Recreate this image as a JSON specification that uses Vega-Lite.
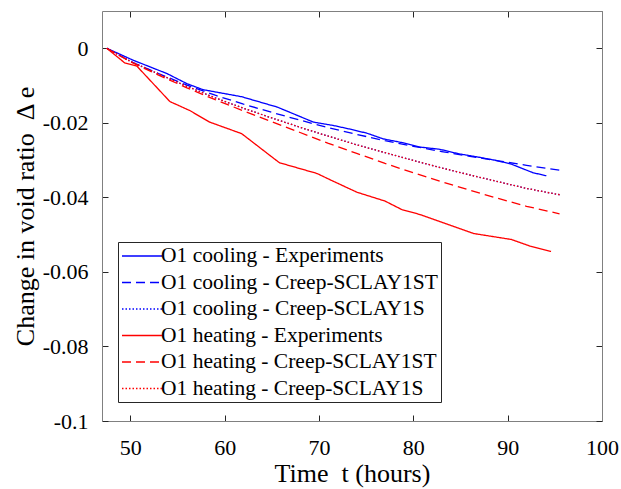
{
  "$schema": "https://vega.github.io/schema/vega-lite/v6.json",
  "width": 500,
  "height": 410,
  "autosize": {"type": "none"},
  "padding": {"left": 102, "top": 11, "right": 19, "bottom": 68},
  "background": "white",
  "config": {
    "font": "Liberation Serif",
    "view": {"stroke": null},
    "axis": {
      "grid": false,
      "domainColor": "#808080",
      "tickColor": "#262626",
      "labelColor": "#000000",
      "titleColor": "#000000",
      "labelFont": "Liberation Serif",
      "titleFont": "Liberation Serif",
      "labelFontSize": 22,
      "titleFontSize": 26,
      "titleFontWeight": "normal",
      "tickSize": -6,
      "labelFlush": false,
      "labelOverlap": false
    }
  },
  "datasets": {
    "d": [
      {"series": "O1 cooling - Experiments", "t": 47.5, "v": 0},
      {"series": "O1 cooling - Experiments", "t": 50.3, "v": -0.0032},
      {"series": "O1 cooling - Experiments", "t": 53.9, "v": -0.0068},
      {"series": "O1 cooling - Experiments", "t": 56.0, "v": -0.0095},
      {"series": "O1 cooling - Experiments", "t": 57.7, "v": -0.0111},
      {"series": "O1 cooling - Experiments", "t": 61.8, "v": -0.0130},
      {"series": "O1 cooling - Experiments", "t": 65.6, "v": -0.0158},
      {"series": "O1 cooling - Experiments", "t": 69.4, "v": -0.0198},
      {"series": "O1 cooling - Experiments", "t": 71.5, "v": -0.0207},
      {"series": "O1 cooling - Experiments", "t": 73.3, "v": -0.0217},
      {"series": "O1 cooling - Experiments", "t": 75.1, "v": -0.0228},
      {"series": "O1 cooling - Experiments", "t": 76.8, "v": -0.0243},
      {"series": "O1 cooling - Experiments", "t": 78.8, "v": -0.0253},
      {"series": "O1 cooling - Experiments", "t": 80.7, "v": -0.0265},
      {"series": "O1 cooling - Experiments", "t": 82.8, "v": -0.0271},
      {"series": "O1 cooling - Experiments", "t": 84.8, "v": -0.0283},
      {"series": "O1 cooling - Experiments", "t": 87.1, "v": -0.0293},
      {"series": "O1 cooling - Experiments", "t": 88.8, "v": -0.0301},
      {"series": "O1 cooling - Experiments", "t": 90.4, "v": -0.0311},
      {"series": "O1 cooling - Experiments", "t": 92.7, "v": -0.0334},
      {"series": "O1 cooling - Experiments", "t": 94.1, "v": -0.0342},

      {"series": "O1 cooling - Creep-SCLAY1ST", "t": 47.5, "v": 0},
      {"series": "O1 cooling - Creep-SCLAY1ST", "t": 50, "v": -0.0035},
      {"series": "O1 cooling - Creep-SCLAY1ST", "t": 53, "v": -0.0068},
      {"series": "O1 cooling - Creep-SCLAY1ST", "t": 56, "v": -0.0099},
      {"series": "O1 cooling - Creep-SCLAY1ST", "t": 59, "v": -0.0126},
      {"series": "O1 cooling - Creep-SCLAY1ST", "t": 62, "v": -0.0150},
      {"series": "O1 cooling - Creep-SCLAY1ST", "t": 65, "v": -0.0172},
      {"series": "O1 cooling - Creep-SCLAY1ST", "t": 68, "v": -0.0193},
      {"series": "O1 cooling - Creep-SCLAY1ST", "t": 71, "v": -0.0213},
      {"series": "O1 cooling - Creep-SCLAY1ST", "t": 74, "v": -0.0231},
      {"series": "O1 cooling - Creep-SCLAY1ST", "t": 77, "v": -0.0248},
      {"series": "O1 cooling - Creep-SCLAY1ST", "t": 80, "v": -0.0263},
      {"series": "O1 cooling - Creep-SCLAY1ST", "t": 83, "v": -0.0277},
      {"series": "O1 cooling - Creep-SCLAY1ST", "t": 86, "v": -0.0290},
      {"series": "O1 cooling - Creep-SCLAY1ST", "t": 89, "v": -0.0302},
      {"series": "O1 cooling - Creep-SCLAY1ST", "t": 92, "v": -0.0314},
      {"series": "O1 cooling - Creep-SCLAY1ST", "t": 95.5, "v": -0.0327},

      {"series": "O1 cooling - Creep-SCLAY1S", "t": 47.5, "v": 0},
      {"series": "O1 cooling - Creep-SCLAY1S", "t": 50, "v": -0.0035},
      {"series": "O1 cooling - Creep-SCLAY1S", "t": 53, "v": -0.0069},
      {"series": "O1 cooling - Creep-SCLAY1S", "t": 56, "v": -0.0102},
      {"series": "O1 cooling - Creep-SCLAY1S", "t": 59, "v": -0.0133},
      {"series": "O1 cooling - Creep-SCLAY1S", "t": 62, "v": -0.0161},
      {"series": "O1 cooling - Creep-SCLAY1S", "t": 65, "v": -0.0187},
      {"series": "O1 cooling - Creep-SCLAY1S", "t": 68, "v": -0.0212},
      {"series": "O1 cooling - Creep-SCLAY1S", "t": 71, "v": -0.0236},
      {"series": "O1 cooling - Creep-SCLAY1S", "t": 74, "v": -0.0259},
      {"series": "O1 cooling - Creep-SCLAY1S", "t": 77, "v": -0.0280},
      {"series": "O1 cooling - Creep-SCLAY1S", "t": 80, "v": -0.0301},
      {"series": "O1 cooling - Creep-SCLAY1S", "t": 83, "v": -0.0321},
      {"series": "O1 cooling - Creep-SCLAY1S", "t": 86, "v": -0.0340},
      {"series": "O1 cooling - Creep-SCLAY1S", "t": 89, "v": -0.0358},
      {"series": "O1 cooling - Creep-SCLAY1S", "t": 92, "v": -0.0376},
      {"series": "O1 cooling - Creep-SCLAY1S", "t": 95.5, "v": -0.0393},

      {"series": "O1 heating - Experiments", "t": 47.5, "v": 0},
      {"series": "O1 heating - Experiments", "t": 49.4, "v": -0.0039},
      {"series": "O1 heating - Experiments", "t": 50.7, "v": -0.0048},
      {"series": "O1 heating - Experiments", "t": 54.2, "v": -0.0143},
      {"series": "O1 heating - Experiments", "t": 56.3, "v": -0.0167},
      {"series": "O1 heating - Experiments", "t": 58.4, "v": -0.0198},
      {"series": "O1 heating - Experiments", "t": 61.8, "v": -0.0229},
      {"series": "O1 heating - Experiments", "t": 65.8, "v": -0.0307},
      {"series": "O1 heating - Experiments", "t": 69.8, "v": -0.0336},
      {"series": "O1 heating - Experiments", "t": 71.2, "v": -0.0353},
      {"series": "O1 heating - Experiments", "t": 74.0, "v": -0.0386},
      {"series": "O1 heating - Experiments", "t": 77.0, "v": -0.0410},
      {"series": "O1 heating - Experiments", "t": 78.8, "v": -0.0433},
      {"series": "O1 heating - Experiments", "t": 80.7, "v": -0.0446},
      {"series": "O1 heating - Experiments", "t": 86.4, "v": -0.0497},
      {"series": "O1 heating - Experiments", "t": 90.4, "v": -0.0513},
      {"series": "O1 heating - Experiments", "t": 92.4, "v": -0.0531},
      {"series": "O1 heating - Experiments", "t": 94.6, "v": -0.0545},

      {"series": "O1 heating - Creep-SCLAY1ST", "t": 47.5, "v": 0},
      {"series": "O1 heating - Creep-SCLAY1ST", "t": 50, "v": -0.0036},
      {"series": "O1 heating - Creep-SCLAY1ST", "t": 53, "v": -0.0072},
      {"series": "O1 heating - Creep-SCLAY1ST", "t": 56, "v": -0.0106},
      {"series": "O1 heating - Creep-SCLAY1ST", "t": 59, "v": -0.0138},
      {"series": "O1 heating - Creep-SCLAY1ST", "t": 62, "v": -0.0168},
      {"series": "O1 heating - Creep-SCLAY1ST", "t": 65, "v": -0.0197},
      {"series": "O1 heating - Creep-SCLAY1ST", "t": 68, "v": -0.0226},
      {"series": "O1 heating - Creep-SCLAY1ST", "t": 71, "v": -0.0255},
      {"series": "O1 heating - Creep-SCLAY1ST", "t": 74, "v": -0.0282},
      {"series": "O1 heating - Creep-SCLAY1ST", "t": 77, "v": -0.0309},
      {"series": "O1 heating - Creep-SCLAY1ST", "t": 80, "v": -0.0334},
      {"series": "O1 heating - Creep-SCLAY1ST", "t": 83, "v": -0.0358},
      {"series": "O1 heating - Creep-SCLAY1ST", "t": 86, "v": -0.0381},
      {"series": "O1 heating - Creep-SCLAY1ST", "t": 89, "v": -0.0403},
      {"series": "O1 heating - Creep-SCLAY1ST", "t": 92, "v": -0.0424},
      {"series": "O1 heating - Creep-SCLAY1ST", "t": 95.5, "v": -0.0444},

      {"series": "O1 heating - Creep-SCLAY1S", "t": 47.5, "v": 0},
      {"series": "O1 heating - Creep-SCLAY1S", "t": 50, "v": -0.0035},
      {"series": "O1 heating - Creep-SCLAY1S", "t": 53, "v": -0.0069},
      {"series": "O1 heating - Creep-SCLAY1S", "t": 56, "v": -0.0102},
      {"series": "O1 heating - Creep-SCLAY1S", "t": 59, "v": -0.0133},
      {"series": "O1 heating - Creep-SCLAY1S", "t": 62, "v": -0.0161},
      {"series": "O1 heating - Creep-SCLAY1S", "t": 65, "v": -0.0187},
      {"series": "O1 heating - Creep-SCLAY1S", "t": 68, "v": -0.0212},
      {"series": "O1 heating - Creep-SCLAY1S", "t": 71, "v": -0.0236},
      {"series": "O1 heating - Creep-SCLAY1S", "t": 74, "v": -0.0259},
      {"series": "O1 heating - Creep-SCLAY1S", "t": 77, "v": -0.0280},
      {"series": "O1 heating - Creep-SCLAY1S", "t": 80, "v": -0.0301},
      {"series": "O1 heating - Creep-SCLAY1S", "t": 83, "v": -0.0321},
      {"series": "O1 heating - Creep-SCLAY1S", "t": 86, "v": -0.0340},
      {"series": "O1 heating - Creep-SCLAY1S", "t": 89, "v": -0.0358},
      {"series": "O1 heating - Creep-SCLAY1S", "t": 92, "v": -0.0376},
      {"series": "O1 heating - Creep-SCLAY1S", "t": 95.5, "v": -0.0393}
    ]
  },
  "data": {"name": "d"},
  "layer": [
    {
      "mark": {"type": "line", "strokeWidth": 1.3, "clip": true},
      "encoding": {
        "x": {
          "field": "t", "type": "quantitative",
          "scale": {"domain": [47, 100], "nice": false, "zero": false},
          "axis": {
            "orient": "bottom",
            "values": [50, 60, 70, 80, 90, 100],
            "format": "d",
            "labelPadding": 22,
            "title": "Time\u00a0 t (hours)",
            "titlePadding": 2
          }
        },
        "y": {
          "field": "v", "type": "quantitative",
          "scale": {"domain": [-0.1, 0.01], "nice": false, "zero": false},
          "axis": {
            "orient": "left",
            "values": [0, -0.02, -0.04, -0.06, -0.08, -0.1],
            "labelExpr": "datum.value == 0 ? '0' : (datum.value < 0 ? '-' : '') + format(abs(datum.value), '.2~f')",
            "labelPadding": 20,
            "title": "Change in void ratio\u00a0 Δ e",
            "titlePadding": 4
          }
        },
        "color": {
          "field": "series", "type": "nominal",
          "scale": {
            "domain": ["O1 cooling - Experiments", "O1 cooling - Creep-SCLAY1ST", "O1 cooling - Creep-SCLAY1S", "O1 heating - Experiments", "O1 heating - Creep-SCLAY1ST", "O1 heating - Creep-SCLAY1S"],
            "range": ["#0000ff", "#0000ff", "#0000ff", "#ff0000", "#ff0000", "#ff0000"]
          },
          "legend": {
            "title": null,
            "orient": "none",
            "legendX": 16,
            "legendY": 231,
            "strokeColor": "#262626",
            "fillColor": "white",
            "padding": 3,
            "labelFont": "Liberation Serif",
            "labelFontSize": 21.5,
            "labelColor": "#000000",
            "labelLimit": 500,
            "labelOffset": 18,
            "symbolType": "M-1,0H3",
            "symbolSize": 400,
            "symbolStrokeWidth": 1.3,
            "rowPadding": 4.5
          }
        },
        "strokeDash": {
          "field": "series", "type": "nominal",
          "scale": {
            "domain": ["O1 cooling - Experiments", "O1 cooling - Creep-SCLAY1ST", "O1 cooling - Creep-SCLAY1S", "O1 heating - Experiments", "O1 heating - Creep-SCLAY1ST", "O1 heating - Creep-SCLAY1S"],
            "range": [[1, 0], [9, 5], [1.5, 2], [1, 0], [9, 5], [1.5, 2]]
          },
          "legend": null
        },
        "opacity": {
          "field": "series", "type": "nominal",
          "scale": {
            "domain": ["O1 cooling - Experiments", "O1 cooling - Creep-SCLAY1ST", "O1 cooling - Creep-SCLAY1S", "O1 heating - Experiments", "O1 heating - Creep-SCLAY1ST", "O1 heating - Creep-SCLAY1S"],
            "range": [1, 1, 0.6, 1, 1, 0.6]
          },
          "legend": null
        }
      }
    },
    {
      "mark": {"type": "rule", "opacity": 0},
      "encoding": {
        "x": {
          "field": "t", "type": "quantitative",
          "axis": {"orient": "top", "values": [50, 60, 70, 80, 90, 100], "labels": false, "title": null}
        },
        "y": {
          "field": "v", "type": "quantitative",
          "axis": {"orient": "right", "values": [0, -0.02, -0.04, -0.06, -0.08, -0.1], "labels": false, "title": null}
        }
      }
    }
  ],
  "resolve": {"axis": {"x": "independent", "y": "independent"}}
}
